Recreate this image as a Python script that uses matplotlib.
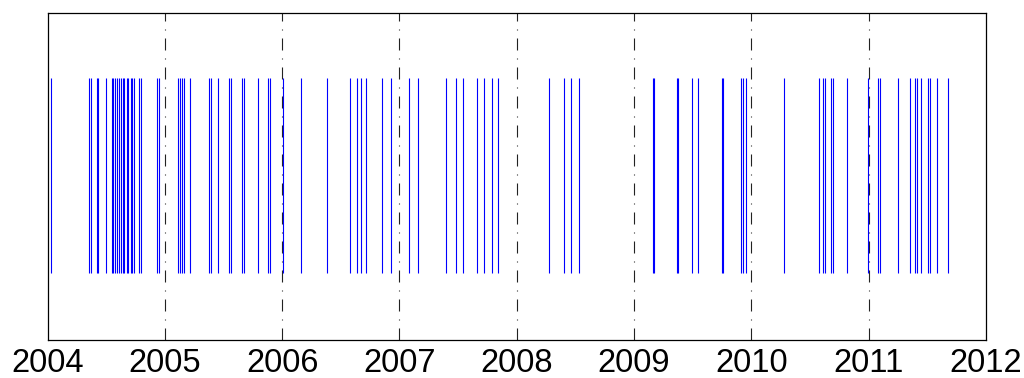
import matplotlib.pyplot as plt

# event times as decimal years
events = [
    2004.030, 2004.356, 2004.371, 2004.419, 2004.433, 2004.496, 2004.547,
    2004.561, 2004.578, 2004.590, 2004.607, 2004.624, 2004.641, 2004.652,
    2004.675, 2004.686, 2004.709, 2004.720, 2004.735, 2004.777, 2004.795,
    2004.931, 2004.948,
    2005.115, 2005.130, 2005.147, 2005.166, 2005.215, 2005.379, 2005.391,
    2005.451, 2005.550, 2005.567, 2005.658, 2005.673, 2005.792, 2005.877,
    2005.897,
    2006.005, 2006.164, 2006.385, 2006.581, 2006.636, 2006.675, 2006.718,
    2006.849, 2006.931,
    2007.082, 2007.161, 2007.400, 2007.483, 2007.540, 2007.659, 2007.724,
    2007.787, 2007.843,
    2008.273, 2008.406, 2008.465, 2008.534,
    2009.159, 2009.171, 2009.364, 2009.375, 2009.492, 2009.548, 2009.748,
    2009.761, 2009.912, 2009.927, 2009.955,
    2010.276, 2010.575, 2010.614, 2010.626, 2010.680, 2010.694, 2010.813,
    2010.992,
    2011.083, 2011.097, 2011.253, 2011.356, 2011.396, 2011.410, 2011.446,
    2011.509, 2011.524, 2011.586, 2011.679,
]
years = list(range(2004, 2013))

fig = plt.figure(figsize=(10.24, 3.78), dpi=100)
ax = fig.add_axes([0.0464, 0.101, 0.9165, 0.865])

ax.vlines(events, 0.205, 0.80, colors='#0000ff', linewidth=0.8)
for y in years[1:-1]:
    ax.axvline(y, color='#222222', linestyle=(0, (10.8, 7.2, 0.9, 7.2)),
               linewidth=0.8, zorder=0)

ax.set_xlim(2004, 2012)
ax.set_ylim(0, 1)
ax.set_xticks(years)
ax.set_xticklabels([str(y) for y in years], fontsize=23.5, family='Liberation Sans')
ax.set_yticks([])
ax.tick_params(axis='x', length=0, pad=6)
for s in ax.spines.values():
    s.set_linewidth(0.9)

fig.savefig('out.png', dpi=100)
